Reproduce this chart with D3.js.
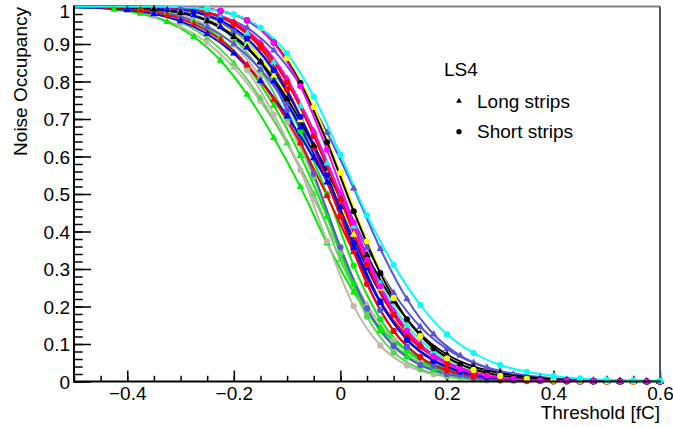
<!DOCTYPE html>
<html>
<head>
<meta charset="utf-8">
<script src="https://cdn.jsdelivr.net/npm/d3@7"></script>
<style>
  html, body { margin: 0; padding: 0; background: #fff; }
  svg { display: block; font-family: "Liberation Sans", Arial, Helvetica, sans-serif; }
</style>
</head>
<body>
<svg id="chart" width="673" height="427"></svg>
<script>
// ---------- data ----------
const thresholdsA = [-0.5,-0.45,-0.4,-0.35,-0.3,-0.25,-0.2,-0.15,-0.1,-0.05,0,0.05,0.1,0.15,0.2,0.25,0.3,0.35,0.4,0.45,0.5,0.55,0.6];
const thresholdsB = [-0.5,-0.475,-0.425,-0.375,-0.325,-0.275,-0.225,-0.175,-0.125,-0.075,-0.025,0.025,0.075,0.125,0.175,0.225,0.275,0.325,0.375,0.425,0.475,0.525,0.575,0.6];

// short strips (circles)
const yellowShort  = [1,1,1,1,0.999,0.994,0.979,0.942,0.863,0.732,0.557,0.374,0.223,0.121,0.062,0.031,0.015,0.007,0.003,0.002,0.001,0,0];
const blackShort   = [1,1,1,1,0.999,0.997,0.988,0.963,0.904,0.796,0.638,0.454,0.289,0.166,0.089,0.046,0.023,0.011,0.006,0.003,0.001,0.001,0,0];
const cyanShort    = [1,1,1,1,0.998,0.993,0.979,0.944,0.875,0.76,0.605,0.443,0.311,0.204,0.126,0.076,0.044,0.026,0.015,0.008,0.005,0.003,0.002];
const magentaShort = [1,1,1,1,1,0.997,0.989,0.964,0.903,0.788,0.618,0.424,0.254,0.136,0.068,0.033,0.016,0.007,0.003,0.002,0.001,0,0,0];
const redShort     = [1,1,1,0.999,0.995,0.984,0.955,0.898,0.798,0.655,0.485,0.311,0.178,0.094,0.047,0.023,0.011,0.005,0.003,0.001,0.001,0,0];
const blueShort    = [1,1,1,0.999,0.996,0.986,0.963,0.915,0.831,0.706,0.55,0.369,0.213,0.111,0.055,0.026,0.012,0.006,0.003,0.001,0.001,0,0,0];
const slateShort   = [1,1,1,0.998,0.992,0.974,0.933,0.852,0.723,0.554,0.358,0.195,0.095,0.044,0.02,0.009,0.004,0.002,0.001,0,0,0,0];
const grayShort    = [1,1,0.998,0.995,0.984,0.961,0.913,0.831,0.712,0.564,0.374,0.201,0.096,0.043,0.019,0.008,0.003,0.001,0.001,0,0,0,0,0];
const mgreenShort  = [1,1,0.999,0.996,0.986,0.963,0.914,0.829,0.703,0.547,0.342,0.173,0.078,0.033,0.014,0.006,0.002,0.001,0,0,0,0,0];
const greenShort   = [1,1,1,0.999,0.995,0.985,0.959,0.904,0.808,0.668,0.5,0.309,0.166,0.082,0.038,0.017,0.008,0.004,0.002,0.001,0,0,0,0];
const slateShort2  = [1,1,1,0.999,0.995,0.986,0.962,0.913,0.827,0.7,0.543,0.35,0.19,0.093,0.042,0.019,0.008,0.004,0.002,0.001,0,0,0,0];
const grayShort2   = [1,0.999,0.998,0.992,0.979,0.95,0.898,0.812,0.691,0.546,0.358,0.195,0.095,0.044,0.02,0.009,0.004,0.002,0.001,0,0,0,0];
const redShort2    = [1,1,1,0.999,0.995,0.984,0.953,0.89,0.779,0.625,0.44,0.26,0.135,0.065,0.03,0.014,0.006,0.003,0.001,0.001,0,0,0];

// long strips (triangles)
const blackLong    = [1,0.999,0.998,0.993,0.983,0.961,0.919,0.852,0.754,0.629,0.488,0.337,0.214,0.127,0.072,0.04,0.022,0.012,0.006,0.003,0.002,0.001,0.001];
const redLong      = [0.999,0.999,0.996,0.99,0.978,0.953,0.911,0.844,0.752,0.636,0.495,0.345,0.213,0.122,0.067,0.035,0.018,0.01,0.005,0.003,0.001,0.001,0,0];
const blueLong     = [0.998,0.996,0.991,0.98,0.961,0.927,0.875,0.802,0.707,0.596,0.465,0.303,0.178,0.098,0.051,0.026,0.013,0.007,0.003,0.002,0.001,0,0];
const yellowLong   = [1,1,0.999,0.998,0.993,0.98,0.952,0.9,0.816,0.697,0.552,0.392,0.248,0.145,0.08,0.043,0.022,0.012,0.006,0.003,0.002,0.001,0,0];
const magentaLong  = [1,1,1,0.999,0.995,0.985,0.959,0.904,0.808,0.668,0.5,0.324,0.187,0.099,0.05,0.025,0.012,0.006,0.003,0.001,0.001,0,0];
const cyanLong     = [1,1,1,0.999,0.997,0.989,0.97,0.928,0.851,0.734,0.582,0.414,0.261,0.15,0.081,0.042,0.022,0.011,0.005,0.003,0.001,0.001,0,0];
const slateLong    = [0.999,0.998,0.995,0.988,0.973,0.945,0.9,0.832,0.739,0.626,0.5,0.357,0.236,0.146,0.087,0.05,0.028,0.016,0.009,0.005,0.003,0.002,0.001];
const slateLong2   = [1,1,1,0.999,0.997,0.99,0.975,0.943,0.883,0.79,0.664,0.515,0.354,0.22,0.126,0.069,0.037,0.019,0.01,0.005,0.003,0.001,0.001,0];
const grayLong     = [0.998,0.995,0.988,0.973,0.947,0.903,0.837,0.747,0.636,0.487,0.345,0.205,0.112,0.058,0.029,0.015,0.007,0.004,0.002,0.001,0,0,0];
const greenLong    = [0.998,0.997,0.992,0.981,0.959,0.919,0.856,0.765,0.65,0.519,0.369,0.238,0.143,0.082,0.046,0.025,0.014,0.007,0.004,0.002,0.001,0.001,0,0];
const mgreenLong   = [0.999,0.997,0.992,0.981,0.958,0.916,0.849,0.755,0.635,0.5,0.324,0.187,0.099,0.05,0.025,0.012,0.006,0.003,0.001,0.001,0,0,0];
const greenLong2   = [1,0.999,0.998,0.993,0.983,0.959,0.915,0.841,0.736,0.602,0.44,0.26,0.135,0.065,0.03,0.014,0.006,0.003,0.001,0.001,0,0,0,0];
const blueLong2    = [1,1,0.999,0.997,0.991,0.977,0.946,0.891,0.801,0.678,0.531,0.357,0.21,0.113,0.058,0.028,0.014,0.007,0.003,0.002,0.001,0,0,0];

const xTickValues = [-0.4,-0.2,0,0.2,0.4,0.6];
const xTickLabels = ["\u22120.4","\u22120.2","0","0.2","0.4","0.6"];
const yTickValues = [0,0.1,0.2,0.3,0.4,0.5,0.6,0.7,0.8,0.9,1];
const yTickLabels = ["0","0.1","0.2","0.3","0.4","0.5","0.6","0.7","0.8","0.9","1"];
const legendTitle = "LS4";
const legendLabels = ["Long strips","Short strips"];

// ---------- styling / series mapping ----------
const C = {black:"#000000", red:"#ff0000", blue:"#0000ff", green:"#00ee00", yellow:"#ffff00",
           magenta:"#ff00ff", cyan:"#00ffff", mgreen:"#59d454", slate:"#5954d8", gray:"#c0b6ac"};
const series = [
  {v: grayLong,     g: thresholdsA, c: C.gray,    m: "tri"},
  {v: greenLong,    g: thresholdsB, c: C.green,   m: "tri"},
  {v: mgreenLong,   g: thresholdsA, c: C.mgreen,  m: "tri"},
  {v: grayShort,    g: thresholdsB, c: C.gray,    m: "circ"},
  {v: grayShort2,   g: thresholdsA, c: C.gray,    m: "circ"},
  {v: mgreenShort,  g: thresholdsA, c: C.mgreen,  m: "circ"},
  {v: greenLong2,   g: thresholdsB, c: C.green,   m: "tri"},
  {v: greenShort,   g: thresholdsB, c: C.green,   m: "circ"},
  {v: slateShort,   g: thresholdsA, c: C.slate,   m: "circ"},
  {v: slateLong,    g: thresholdsA, c: C.slate,   m: "tri"},
  {v: slateLong2,   g: thresholdsB, c: C.slate,   m: "tri"},
  {v: slateShort2,  g: thresholdsB, c: C.slate,   m: "circ"},
  {v: blueLong,     g: thresholdsA, c: C.blue,    m: "tri"},
  {v: yellowLong,   g: thresholdsB, c: C.yellow,  m: "tri"},
  {v: redLong,      g: thresholdsB, c: C.red,     m: "tri"},
  {v: cyanLong,     g: thresholdsB, c: C.cyan,    m: "tri"},
  {v: blueLong2,    g: thresholdsB, c: C.blue,    m: "tri"},
  {v: redShort2,    g: thresholdsA, c: C.red,     m: "circ"},
  {v: blackLong,    g: thresholdsA, c: C.black,   m: "tri"},
  {v: blueShort,    g: thresholdsB, c: C.blue,    m: "circ"},
  {v: magentaLong,  g: thresholdsA, c: C.magenta, m: "tri"},
  {v: redShort,     g: thresholdsA, c: C.red,     m: "circ"},
  {v: yellowShort,  g: thresholdsA, c: C.yellow,  m: "circ"},
  {v: blackShort,   g: thresholdsB, c: C.black,   m: "circ"},
  {v: magentaShort, g: thresholdsB, c: C.magenta, m: "circ"},
  {v: cyanShort,    g: thresholdsA, c: C.cyan,    m: "circ"}
];

// ---------- drawing ----------
const svg = d3.select("#chart");
const FONT = 19;
const L = 74, R = 660, T = 6.5, B = 381.5;
const x = d3.scaleLinear().domain([-0.5, 0.6]).range([L, R]);
const y = d3.scaleLinear().domain([0, 1]).range([B, T]);

svg.append("defs").append("clipPath").attr("id", "plotclip")
  .append("rect").attr("x", L).attr("y", T - 1).attr("width", R - L).attr("height", B - T + 1);

// minor ticks
svg.append("g").attr("transform", `translate(${L},0)`)
  .call(d3.axisLeft(y).tickValues(d3.range(0, 1.0001, 0.02)).tickSize(-8.7).tickFormat(""))
  .call(g => g.select(".domain").remove())
  .selectAll("line").attr("stroke", "#000").attr("stroke-width", 1.5);
svg.append("g").attr("transform", `translate(0,${B})`)
  .call(d3.axisBottom(x).tickValues(d3.range(-0.5, 0.6001, 0.05)).tickSize(-5.7).tickFormat(""))
  .call(g => g.select(".domain").remove())
  .selectAll("line").attr("stroke", "#000").attr("stroke-width", 1.5);

// major ticks + labels
const yAxis = svg.append("g").attr("transform", `translate(${L},0)`)
  .call(d3.axisLeft(y).tickValues(yTickValues).tickSize(-17).tickPadding(4)
        .tickFormat((d, i) => yTickLabels[i]));
yAxis.select(".domain").remove();
yAxis.selectAll("line").attr("stroke", "#000").attr("stroke-width", 1.5);
yAxis.selectAll("text").attr("font-size", FONT).attr("fill", "#000")
  .attr("font-family", "Liberation Sans, Arial, sans-serif")
  .attr("dy", d => d === 1 ? "0.58em" : "0.36em");

const xAxis = svg.append("g").attr("transform", `translate(0,${B})`)
  .call(d3.axisBottom(x).tickValues(xTickValues).tickSize(-11).tickPadding(5)
        .tickFormat((d, i) => xTickLabels[i]));
xAxis.select(".domain").remove();
xAxis.selectAll("line").attr("stroke", "#000").attr("stroke-width", 1.5);
xAxis.selectAll("text").attr("font-size", FONT).attr("fill", "#000")
  .attr("font-family", "Liberation Sans, Arial, sans-serif");

// frame
svg.append("line").attr("x1", L).attr("x2", R).attr("y1", T).attr("y2", T)
  .attr("stroke", "#808080").attr("stroke-width", 2);
svg.append("line").attr("x1", R).attr("x2", R).attr("y1", T).attr("y2", B)
  .attr("stroke", "#555").attr("stroke-width", 2);

// curves
const line = d3.line().x(d => x(d[0])).y(d => y(d[1])).curve(d3.curveMonotoneX);
const plot = svg.append("g");
const curves = plot.append("g").attr("clip-path", "url(#plotclip)");
const markers = plot.append("g");
const triSym = d3.symbol().type(d3.symbolTriangle).size(24);
const circSym = d3.symbol().type(d3.symbolCircle).size(30);

series.forEach(s => {
  const pts = s.g.map((t, i) => [t, s.v[i]]);
  curves.append("path").datum(pts).attr("d", line)
    .attr("fill", "none").attr("stroke", s.c).attr("stroke-width", 2);
});
series.forEach(s => {
  const pts = s.g.map((t, i) => [t, s.v[i]]).filter(p => p[1] < 0.995 && p[0] > -0.5 && p[0] <= 0.6);
  markers.selectAll(null).data(pts).enter().append("path")
    .attr("d", s.m === "tri" ? triSym : circSym)
    .attr("transform", d => `translate(${x(d[0])},${y(d[1])})`)
    .attr("fill", s.c);
});

// axis lines (left, bottom)
svg.append("line").attr("x1", L).attr("x2", L).attr("y1", T - 1).attr("y2", B + 1)
  .attr("stroke", "#000").attr("stroke-width", 2);
svg.append("line").attr("x1", L - 1).attr("x2", R + 1).attr("y1", B).attr("y2", B)
  .attr("stroke", "#000").attr("stroke-width", 2);

// axis titles
svg.append("text").attr("x", 660).attr("y", 419).attr("text-anchor", "end")
  .attr("font-size", FONT).text("Threshold [fC]");
svg.append("text").attr("transform", "translate(26.5,7) rotate(-90)").attr("text-anchor", "end")
  .attr("font-size", FONT).text("Noise Occupancy");

// legend
svg.append("text").attr("x", 444).attr("y", 76).attr("font-size", FONT).text(legendTitle);
const legTri = d3.symbol().type(d3.symbolTriangle).size(14);
const legCirc = d3.symbol().type(d3.symbolCircle).size(22);
svg.append("path").attr("d", legTri).attr("transform", "translate(459,101)").attr("fill", "#000");
svg.append("text").attr("x", 477).attr("y", 107.5).attr("font-size", FONT).text(legendLabels[0]);
svg.append("path").attr("d", legCirc).attr("transform", "translate(459,131.7)").attr("fill", "#000");
svg.append("text").attr("x", 477).attr("y", 138).attr("font-size", FONT).text(legendLabels[1]);
</script>
</body>
</html>
